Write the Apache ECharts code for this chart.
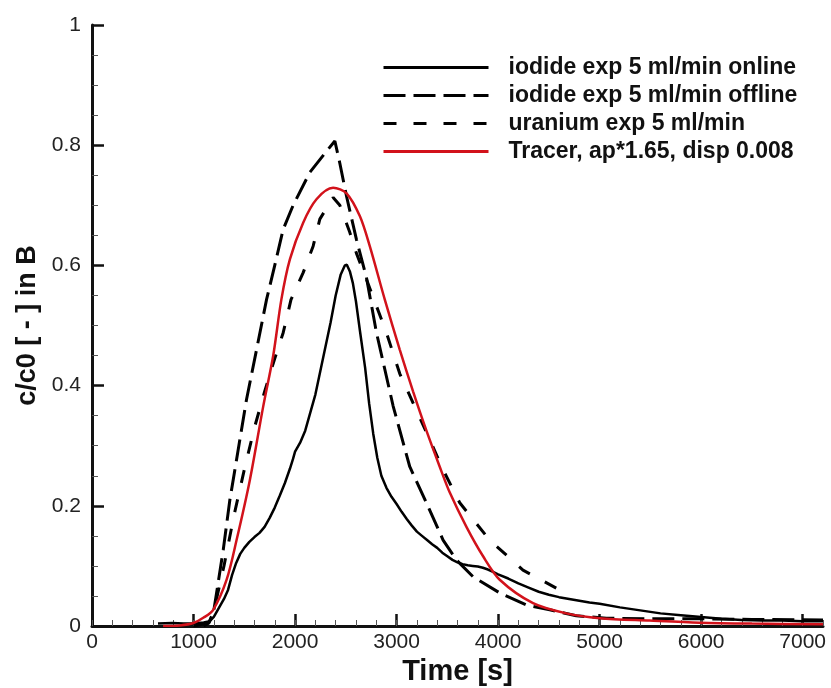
<!DOCTYPE html>
<html>
<head>
<meta charset="utf-8">
<script src="https://cdn.jsdelivr.net/npm/echarts@6/dist/echarts.min.js"></script>
<style>
  html, body { margin: 0; padding: 0; background: #fff; }
  #chart { width: 831px; height: 688px; }
</style>
</head>
<body>
<div id="chart"></div>
<script>
// values (time in s, c/c0)
const onlineT = [650, 790, 900, 1000, 1100, 1160, 1200, 1250, 1300, 1340, 1380, 1420, 1460, 1500, 1550, 1600, 1650, 1700, 1750, 1800, 1850, 1900, 1950, 1980, 2000, 2050, 2100, 2150, 2200, 2250, 2300, 2350, 2400, 2450, 2490, 2510, 2540, 2570, 2600, 2640, 2690, 2730, 2770, 2810, 2850, 2900, 2950, 3000, 3050, 3100, 3150, 3200, 3250, 3300, 3350, 3400, 3450, 3500, 3550, 3600, 3650, 3700, 3750, 3800, 3850, 3900, 3950, 4000, 4100, 4200, 4300, 4400, 4500, 4600, 4700, 4800, 4900, 5000, 5200, 5400, 5600, 5800, 6000, 6200, 6400, 6600, 6800, 7000, 7200];
const onlineC = [0.004, 0.005, 0.004, 0.004, 0.006, 0.008, 0.015, 0.03, 0.045, 0.06, 0.085, 0.105, 0.12, 0.13, 0.14, 0.148, 0.155, 0.165, 0.18, 0.197, 0.217, 0.238, 0.262, 0.278, 0.29, 0.305, 0.325, 0.355, 0.385, 0.425, 0.465, 0.505, 0.55, 0.585, 0.6, 0.601, 0.59, 0.57, 0.54, 0.49, 0.43, 0.37, 0.32, 0.28, 0.25, 0.23, 0.215, 0.203, 0.19, 0.178, 0.167, 0.157, 0.15, 0.143, 0.136, 0.13, 0.122, 0.116, 0.11, 0.106, 0.103, 0.101, 0.1, 0.099, 0.097, 0.094, 0.09, 0.086, 0.079, 0.071, 0.064, 0.057, 0.052, 0.048, 0.045, 0.042, 0.039, 0.037, 0.031, 0.026, 0.021, 0.018, 0.015, 0.012, 0.01, 0.009, 0.009, 0.008, 0.008];

const offlineT = [1000, 1150, 1194, 1227, 1293, 1358, 1424, 1522, 1621, 1719, 1800, 1883, 1981, 2146, 2310, 2392, 2441, 2507, 2605, 2703, 2802, 2966, 3130, 3294, 3458, 3589, 3753, 4016, 4278, 4508, 4770, 5066, 5500, 6000, 6500, 7200];
const offlineC = [0.0, 0.005, 0.02, 0.055, 0.127, 0.21, 0.277, 0.377, 0.46, 0.543, 0.6, 0.66, 0.70, 0.755, 0.79, 0.807, 0.77, 0.715, 0.643, 0.58, 0.488, 0.366, 0.265, 0.205, 0.143, 0.11, 0.082, 0.055, 0.035, 0.027, 0.017, 0.013, 0.012, 0.012, 0.011, 0.01];

const uraniumT = [1100, 1150, 1200, 1300, 1400, 1500, 1600, 1700, 1800, 1883, 1960, 2080, 2178, 2244, 2375, 2441, 2539, 2605, 2703, 2900, 3031, 3179, 3327, 3458, 3622, 3917, 4245, 4574, 4640];
const uraniumC = [0.0, 0.005, 0.025, 0.1, 0.185, 0.26, 0.33, 0.39, 0.445, 0.488, 0.543, 0.588, 0.632, 0.677, 0.713, 0.70, 0.655, 0.62, 0.577, 0.488, 0.42, 0.365, 0.31, 0.26, 0.205, 0.143, 0.093, 0.063, 0.057];

const tracerT = [700, 866, 1000, 1100, 1194, 1326, 1424, 1555, 1686, 1785, 1865, 1949, 2080, 2211, 2375, 2507, 2638, 2736, 2884, 3031, 3163, 3294, 3425, 3524, 3688, 3852, 4016, 4344, 4672, 5000, 5492, 5984, 6500, 7200];
const tracerC = [0.0, 0.001, 0.005, 0.014, 0.027, 0.077, 0.143, 0.243, 0.365, 0.45, 0.543, 0.61, 0.671, 0.71, 0.729, 0.72, 0.682, 0.632, 0.543, 0.46, 0.39, 0.325, 0.265, 0.222, 0.165, 0.116, 0.077, 0.038, 0.021, 0.013, 0.009, 0.0055, 0.004, 0.003];

const names = ['iodide exp 5 ml/min online', 'iodide exp 5 ml/min offline', 'uranium exp 5 ml/min', 'Tracer, ap*1.65, disp 0.008'];
const xTicks = [0, 1000, 2000, 3000, 4000, 5000, 6000, 7000];

const zip = (t, c) => t.map((v, i) => [v, c[i]]);
const FONT = '"Liberation Sans", Arial, sans-serif';
const RED = '#d2121b';

const chart = echarts.init(document.getElementById('chart'));
chart.setOption({
  backgroundColor: '#fff',
  animation: false,
  textStyle: { fontFamily: FONT },
  grid: { left: 92, right: 8, top: 25, bottom: 62, containLabel: false, outerBoundsMode: 'none' },
  legend: {
    left: 377, top: 51, orient: 'vertical', align: 'left',
    itemWidth: 105, itemHeight: 14, itemGap: 5,
    itemStyle: { opacity: 0 },
    lineStyle: { width: 3 },
    textStyle: { fontSize: 23, lineHeight: 22, fontWeight: 'bold', color: '#111', fontFamily: FONT, padding: [0, 0, 0, 15] },
    data: names
  },
  xAxis: [{
    type: 'value', min: 0, max: 7200, interval: 1000,
    name: 'Time [s]', nameLocation: 'middle', nameGap: 29,
    nameTextStyle: { fontSize: 29, fontWeight: 'bold', color: '#111', fontFamily: FONT },
    axisLine: { lineStyle: { color: '#111', width: 3 } },
    axisTick: { inside: true, length: 12, customValues: xTicks, lineStyle: { color: '#111', width: 2.5 } },
    axisLabel: { customValues: xTicks, fontSize: 21, color: '#222', margin: 6, fontFamily: FONT,
      formatter: v => String(v) },
    splitLine: { show: false }
  }, {
    // minor ticks every 200 s
    type: 'value', min: 0, max: 7200, interval: 200, position: 'bottom',
    axisLine: { show: false },
    axisTick: { inside: true, length: 6, lineStyle: { color: '#555', width: 1 } },
    axisLabel: { show: false },
    splitLine: { show: false }
  }],
  yAxis: {
    type: 'value', min: 0, max: 1, interval: 0.2,
    name: 'c/c0 [ - ] in B', nameLocation: 'middle', nameGap: 50,
    nameTextStyle: { fontSize: 27, fontWeight: 'bold', color: '#111', fontFamily: FONT },
    axisLine: { lineStyle: { color: '#111', width: 3 } },
    axisTick: { inside: true, length: 12, lineStyle: { color: '#111', width: 2.5 } },
    minorTick: { show: true, splitNumber: 4, length: 6, lineStyle: { color: '#555', width: 1 } },
    axisLabel: { fontSize: 21, color: '#222', margin: 11, fontFamily: FONT,
      formatter: v => String(Math.round(v * 10) / 10) },
    splitLine: { show: false }
  },
  series: [
    { name: names[0], type: 'line', symbol: 'none', data: zip(onlineT, onlineC),
      lineStyle: { color: '#000', width: 2.5 }, itemStyle: { color: '#000' } },
    { name: names[1], type: 'line', symbol: 'none', data: zip(offlineT, offlineC),
      lineStyle: { color: '#000', width: 3, type: [22, 8] }, itemStyle: { color: '#000' } },
    { name: names[2], type: 'line', symbol: 'none', data: zip(uraniumT, uraniumC),
      lineStyle: { color: '#000', width: 3, type: [13, 17] }, itemStyle: { color: '#000' } },
    { name: names[3], type: 'line', symbol: 'none', smooth: 0.3, data: zip(tracerT, tracerC),
      lineStyle: { color: RED, width: 2.5 }, itemStyle: { color: RED } }
  ]
});
</script>
</body>
</html>
